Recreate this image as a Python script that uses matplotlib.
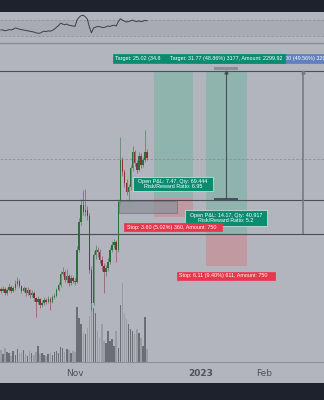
import numpy as np
import matplotlib
matplotlib.use("Agg")
import matplotlib.pyplot as plt
from matplotlib.patches import Rectangle

# ---------------- data ----------------
days = list(range(-36, 36))  # day offset from Nov 1 (daily candles)
opens = [54.6,54.2,54.6,53.8,54.4,54.9,54.2,54.7,55.5,56.1,
         55.1,54.2,54.7,53.8,54.4,53.4,53.8,52.8,52.1,52.7,
         51.5,51.9,52.5,52.1,52.7,52.1,53.0,53.2,54.4,55.3,
         57.4,57.8,56.3,57.0,55.7,56.6,56.1,55.9,62.0,67.3,
         70.5,69.2,69.6,68.4,58.2,51.9,61.0,62.0,61.6,60.1,
         58.9,57.8,58.5,59.7,62.0,62.9,63.5,62.0,71.1,79.1,
         76.8,74.7,73.0,73.9,77.5,80.6,78.5,77.2,79.8,78.1,
         79.1,80.6]
closes = [54.2,54.6,53.8,54.4,54.9,54.2,54.7,55.5,56.1,55.1,
          54.2,54.7,53.8,54.4,53.4,53.8,52.8,52.1,52.7,51.5,
          51.9,52.5,52.1,52.7,52.1,53.0,53.2,54.4,55.3,57.4,
          57.8,56.3,57.0,55.7,56.6,56.1,55.9,62.0,67.3,70.5,
          69.2,69.6,68.4,58.2,51.9,61.0,62.0,61.6,60.1,58.9,
          57.8,58.5,59.7,62.0,62.9,63.5,62.0,71.1,79.1,76.8,
          74.7,73.0,73.9,77.5,80.6,78.5,77.2,79.8,78.1,79.1,
          80.6,79.4]
highs = [55.0,55.1,55.0,54.8,55.6,55.3,55.1,56.2,56.9,56.5,
         55.4,55.2,55.0,54.9,54.6,54.3,54.1,53.1,53.2,52.9,
         52.4,53.0,52.9,53.2,53.0,53.4,53.8,54.8,55.9,57.9,
         58.7,58.1,58.3,57.4,57.3,57.0,56.6,62.8,68.0,71.6,
         73.4,73.6,70.3,69.0,59.0,61.8,62.9,62.6,62.2,60.8,
         59.4,59.2,60.4,62.6,63.6,64.1,63.9,71.7,83.4,79.6,
         77.3,75.4,74.5,78.2,81.8,81.0,79.0,80.5,80.3,79.7,
         84.8,81.2]
lows = [53.7,53.9,53.4,53.5,54.1,53.8,53.9,54.4,55.2,54.8,
        53.8,53.9,53.3,53.5,52.9,53.0,52.3,49.2,51.7,51.0,
        51.1,51.6,51.7,51.8,50.6,51.8,52.7,53.0,54.1,55.0,
        57.0,55.8,55.7,55.2,55.3,55.7,55.4,55.6,61.5,66.8,
        68.6,68.5,67.6,57.5,50.5,51.5,60.3,60.6,59.4,58.0,
        53.8,57.0,58.0,59.3,61.6,62.4,59.6,61.6,70.6,76.0,
        73.9,72.4,71.0,73.4,77.0,78.0,76.6,76.9,77.6,77.7,
        78.7,79.0]
volumes = [12,8,14,10,9,6,11,7,13,9,
           10,12,8,6,11,9,7,10,16,8,
           9,7,6,8,9,7,10,11,9,15,
           14,10,13,12,9,11,10,
           55,44,38,29,28,34,46,54,54,49,
           31,24,38,21,19,31,21,23,16,31,
           14,57,79,49,43,38,33,31,28,33,
           29,24,16,45,13]
oscillator = [45,45,43,44,46,45,47,50,49,47,
              46,45,44,43,42,41,40,38,37,37,
              40,42,41,43,42,44,47,52,56,62,
              60,58,60,57,56,55,54,70,77,81,
              82,78,72,52,38,50,52,54,53,52,
              51,53,55,54,56,57,55,66,73,70,
              67,65,66,68,70,67,66,68,66,67,
              69,68]
osc_bands = [70, 30]

target_price = 96.0
tool1_days = [38.3, 57.3]
tool1_entry, tool1_stop = 71.84, 68.24
tool2_days = [63.6, 83.5]
tool2_entry, tool2_stop = 65.0, 58.89
hlines = [96.0, 71.46, 65.0]
last_price = 79.25
vline1_day, vline1_bottom, vline1_cap = 73.3, 71.65, [67.5, 79.1]
vline2_day, vline2_bottom = 110.7, 65.0
gray_rect_days, gray_rect_prices = [21.4, 49.5], [69.0, 71.27]

month_ticks = [0, 61, 92]
month_labels = ["Nov", "2023", "Feb"]

# ---------------- layout ----------------
W, H = 324, 400
BG = "#b3b5be"
DARK = "#1e222d"
fig = plt.figure(figsize=(W / 100, H / 100), dpi=100, facecolor=DARK)
fig.add_artist(Rectangle((0, 1 - 383 / H), 1, (383 - 12) / H, transform=fig.transFigure,
                         facecolor=BG, lw=0, zorder=-10))

def ax_px(top, bottom):
    return [0, 1 - bottom / H, 1, (bottom - top) / H]

def bare(a):
    a.patch.set_visible(False)
    for s in a.spines.values():
        s.set_visible(False)
    a.set_xticks([]); a.set_yticks([])

xlim = (-36.41, 120.87)

# oscillator pane
axo = fig.add_axes(ax_px(12, 42))
bare(axo)
axo.set_xlim(*xlim)
axo.set_ylim(15, 90)
axo.axhspan(osc_bands[1], osc_bands[0], color="#a9abb4", lw=0, zorder=0)
for b in osc_bands:
    axo.axhline(b, color="#8d9099", lw=0.6, ls=(0, (3, 2)))
axo.plot(days, oscillator, color="#3c3f48", lw=0.7)

# volume overlay (below price layer)
axv = fig.add_axes(ax_px(43, 362))
bare(axv)
axv.set_xlim(*xlim)
axv.set_ylim(0, 319)
vcol = ["#6c6e76" if c >= o else "#9a9ca5" for o, c in zip(opens, closes)]
axv.bar(days, volumes, width=0.72, color=vcol, linewidth=0)

# main price pane
ax = fig.add_axes(ax_px(43, 362))
bare(ax)
ax.set_xlim(*xlim)
ax.set_ylim(40.68, 101.29)

UP, DN = "#2d6e3a", "#8a2e3e"
for h in hlines:
    ax.axhline(h, color="#4b4e58", lw=0.8, zorder=2)
ax.axhline(last_price, color="#8c8f98", lw=0.6, ls=(0, (3, 2)), zorder=2)

# position tools
GREENBOX, REDBOX = "#8fb4ae", "#c19aa1"
ax.add_patch(Rectangle((tool1_days[0], tool1_entry), tool1_days[1] - tool1_days[0],
                       target_price - tool1_entry, color=GREENBOX, lw=0, zorder=1))
ax.add_patch(Rectangle((tool1_days[0], tool1_stop), tool1_days[1] - tool1_days[0],
                       tool1_entry - tool1_stop, color=REDBOX, lw=0, zorder=1))
ax.add_patch(Rectangle((tool2_days[0], tool2_entry), tool2_days[1] - tool2_days[0],
                       target_price - tool2_entry, color=GREENBOX, lw=0, zorder=1))
ax.add_patch(Rectangle((tool2_days[0], tool2_stop), tool2_days[1] - tool2_days[0],
                       tool2_entry - tool2_stop, color=REDBOX, lw=0, zorder=1))

# candles
for d, o, h, l, c in zip(days, opens, highs, lows, closes):
    col = UP if c >= o else DN
    ax.vlines(d, l, h, color=col, lw=0.5, alpha=0.75, zorder=3)
    ax.add_patch(Rectangle((d - 0.35, min(o, c)), 0.7, max(abs(c - o), 0.15),
                           color=col, lw=0, zorder=3))

# gray drawn rectangle
ax.add_patch(Rectangle((gray_rect_days[0], gray_rect_prices[0]),
                       gray_rect_days[1] - gray_rect_days[0],
                       gray_rect_prices[1] - gray_rect_prices[0],
                       facecolor="#8f919a", edgecolor="#6b6e77", lw=0.6, alpha=0.75, zorder=4))

# vertical measure lines
ax.vlines(vline1_day, vline1_bottom, target_price, color="#4b4e58", lw=0.8, zorder=4)
ax.hlines(vline1_bottom, vline1_cap[0], vline1_cap[1], color="#4b4e58", lw=1.4, zorder=4)
ax.add_patch(Rectangle((vline1_cap[0], target_price + 0.1), vline1_cap[1] - vline1_cap[0], 0.55,
                       color="#8c8f98", lw=0, zorder=4))
ax.plot([vline1_day], [target_price - 0.3], marker="^", ms=2.2, color="#4b4e58", zorder=4)
ax.vlines(vline2_day, vline2_bottom, target_price, color="#767983", lw=1.2, zorder=4)
ax.plot([vline2_day], [target_price - 0.3], marker="^", ms=2.2, color="#767983", zorder=4)

FONT = "Liberation Sans"
FS = 3.9
TEAL, RED, BLUE = "#0b8c70", "#e8374c", "#5f7fbf"

def label_box(x0, x1, y0, y1, color, z, edge=None):
    ax.add_patch(Rectangle((x0, y0), x1 - x0, y1 - y0, facecolor=color,
                           edgecolor=edge if edge else color, lw=0.5, zorder=z,
                           clip_on=False))

# target labels (top) - overlapping, only visible parts of the text shown
label_box(59.2, 135.0, 97.5, 99.2, BLUE, 5)
ax.text(101.8, 98.35, "00 (49.56%) 320", color="white",
        fontsize=FS, family=FONT, va="center", ha="left", zorder=5)
label_box(18.4, 45.1, 97.5, 99.2, TEAL, 6)
ax.text(19.6, 98.35, "Target: 25.02 (34.8", color="white",
        fontsize=FS, family=FONT, va="center", ha="left", zorder=6)
label_box(44.7, 101.9, 97.5, 99.2, TEAL, 7)
ax.text(46.0, 98.35, "Target: 31.77 (48.86%) 3177, Amount: 2299.92", color="white",
        fontsize=FS, family=FONT, va="center", ha="left", zorder=7)

# open P&L labels
label_box(28.2, 67.0, 73.17, 75.83, TEAL, 8, edge="#d8e8e3")
ax.text(47.6, 74.5, "Open P&L: 7.47, Qty: 69.444\nRisk/Reward Ratio: 6.95", color="white",
        fontsize=FS, family=FONT, va="center", ha="center", linespacing=0.95, zorder=8)
label_box(53.4, 93.2, 66.52, 69.56, TEAL, 8, edge="#d8e8e3")
ax.text(73.3, 68.04, "Open P&L: 14.17, Qty: 40.917\nRisk/Reward Ratio: 5.2", color="white",
        fontsize=FS, family=FONT, va="center", ha="center", linespacing=0.95, zorder=8)

# stop labels
label_box(23.8, 71.4, 65.57, 67.09, RED, 8)
ax.text(25.0, 66.33, "Stop: 3.60 (5.02%) 360, Amount: 750", color="white",
        fontsize=FS, family=FONT, va="center", ha="left", zorder=8)
label_box(49.5, 97.1, 56.26, 57.78, RED, 8)
ax.text(50.7, 57.02, "Stop: 6.11 (9.40%) 611, Amount: 750", color="white",
        fontsize=FS, family=FONT, va="center", ha="left", zorder=8)

# time axis pane
axt = fig.add_axes(ax_px(362, 383))
bare(axt)
axt.set_xlim(*xlim)
axt.set_ylim(0, 1)
axt.axhline(1, color="#8c8f98", lw=0.8)
for t, lab in zip(month_ticks, month_labels):
    axt.text(t, 0.47, lab, ha="center", va="center", fontsize=6.5,
             color="#4e515b", fontweight="bold" if lab == "2023" else "normal")

fig.add_artist(plt.Line2D([0, 1], [1 - 42.5 / H, 1 - 42.5 / H], color="#8a8d96", lw=1.0))

fig.savefig("out.png", dpi=100, facecolor=DARK)
